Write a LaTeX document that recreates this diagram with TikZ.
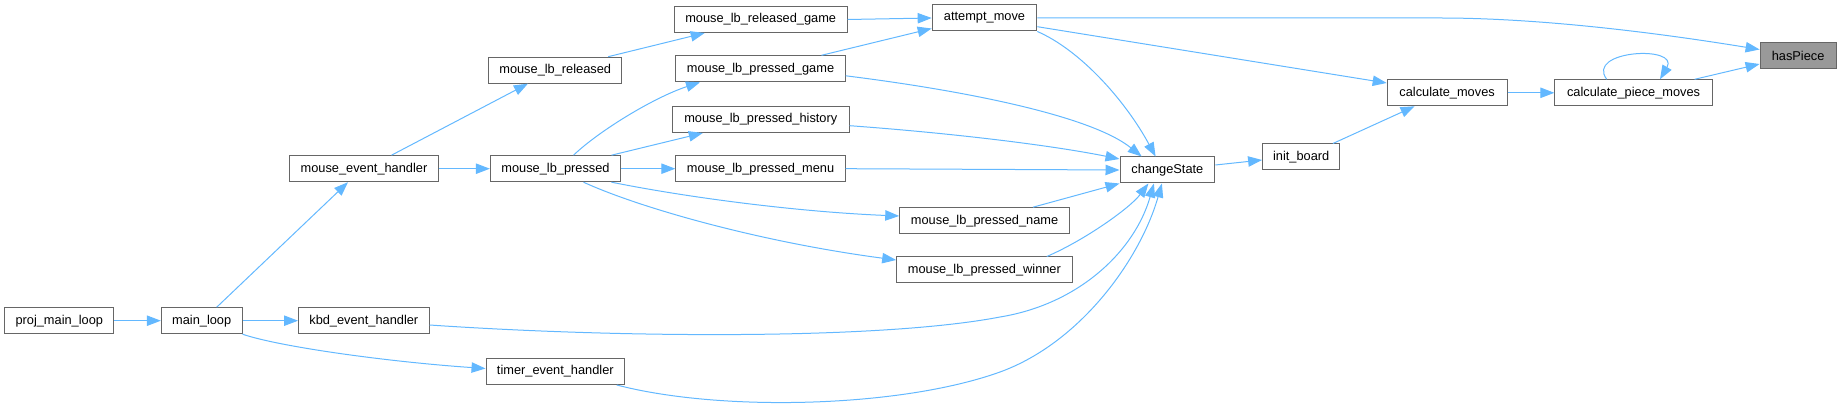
\documentclass[tikz,border=0pt]{standalone}
\usepackage{fontspec}
\setmainfont{Liberation Sans}
\usetikzlibrary{arrows.meta,calc}
\definecolor{edgeblue}{HTML}{63B8FF}
\definecolor{boxgray}{HTML}{666666}
\definecolor{hpfill}{HTML}{999999}
\tikzset{
  fn/.style={draw=boxgray, line width=0.75pt, fill=white, rectangle,
    minimum height=19.5pt, inner sep=0pt,
    font=\fontsize{9.6pt}{11pt}\selectfont},
  cur/.style={fn, fill=hpfill},
  call/.style={draw=edgeblue, line width=0.75pt,
    -{Triangle[length=10.5pt,width=7.8pt]}, color=edgeblue},
}
\begin{document}
\begin{tikzpicture}[x=0.75pt,y=-0.75pt]
\useasboundingbox (0,0) rectangle (1841,409);
% nodes
\node[fn, minimum width=81.9pt]  (proj)  at (59.3,320.7)  {proj\_main\_loop};
\node[fn, minimum width=60.5pt]  (main)  at (201.7,320.7) {main\_loop};
\node[fn, minimum width=97.9pt]  (kbd)   at (363.8,320.7) {kbd\_event\_handler};
\node[fn, minimum width=111.2pt] (meh)   at (364,168.7)   {mouse\_event\_handler};
\node[fn, minimum width=103.9pt] (timer) at (555.3,371.5) {timer\_event\_handler};
\node[fn, minimum width=99.75pt] (rel)   at (555.2,70.2)  {mouse\_lb\_released};
\node[fn, minimum width=97.7pt]  (pr)    at (555.5,168.7) {mouse\_lb\_pressed};
\node[fn, minimum width=129.6pt] (rg)    at (760.7,19.5)  {mouse\_lb\_released\_game};
\node[fn, minimum width=127pt]   (pg)    at (760.5,68.8)  {mouse\_lb\_pressed\_game};
\node[fn, minimum width=132.5pt] (hist)  at (760.8,119.5) {mouse\_lb\_pressed\_history};
\node[fn, minimum width=127pt]   (menu)  at (760.5,168.7) {mouse\_lb\_pressed\_menu};
\node[fn, minimum width=127.3pt] (name)  at (984.6,220.7) {mouse\_lb\_pressed\_name};
\node[fn, minimum width=131.6pt] (win)   at (984.4,270)   {mouse\_lb\_pressed\_winner};
\node[fn, minimum width=78.5pt]  (am)    at (984.5,18)    {attempt\_move};
\node[fn, minimum width=71.1pt]  (cs)    at (1167.4,170)  {changeState};
\node[fn, minimum width=57.9pt]  (ib)    at (1301.2,157)  {init\_board};
\node[fn, minimum width=89.9pt]  (cm)    at (1447.1,92.8) {calculate\_moves};
\node[fn, minimum width=118.1pt] (cpm)   at (1633.6,92.8) {calculate\_piece\_moves};
\node[cur, minimum width=57pt]   (hp)    at (1798.1,55.5) {hasPiece};
% edges
\draw[call] (proj.east) -- (main.west);
\draw[call] ($(main.north)+(15,0)$) -- ($(meh.south)+(-16,0)$);
\draw[call] (main.east) -- (kbd.west);
\draw[call] (main.south east) .. controls (280,347) and (390,362) .. ($(timer.west)+(0,-3)$);
\draw[call] ($(meh.north)+(27.5,0)$) -- ($(rel.south)+(-27.3,0)$);
\draw[call] (meh.east) -- (pr.west);
\draw[call] ($(rel.north)+(53,0)$) -- ($(rg.south)+(-56,0)$);
\draw[call] ($(pr.north)+(18,0)$) .. controls (600,130) and (655,97) .. ($(pg.south)+(-60.5,0)$);
\draw[call] ($(pr.north)+(56,0)$) -- ($(hist.south)+(-58,0)$);
\draw[call] (pr.east) -- (menu.west);
\draw[call] ($(pr.south)+(56,0)$) .. controls (690,198) and (800,212) .. ($(name.west)+(0,-4.7)$);
\draw[call] ($(pr.south)+(28,0)$) .. controls (640,208) and (760,242) .. ($(win.west)+(0,-10)$);
\draw[call] (rg.east) -- (am.west);
\draw[call] ($(pg.north)+(61,0)$) -- ($(am.south west)+(0,-3)$);
\draw[call] (am.east) -- (1440,18) .. controls (1530,18) and (1640,30) .. ($(hp.west)+(0,-6)$);
\draw[call] ($(am.east)+(0,8.7)$) -- ($(cm.west)+(0,-9.8)$);
\draw[call] (am.south east) .. controls (1080,50) and (1125,100) .. ($(cs.north)+(-11.8,0)$);
\draw[call] ($(pg.east)+(0,7)$) .. controls (960,90) and (1090,115) .. ($(cs.north)+(-25.7,0)$);
\draw[call] ($(hist.east)+(0,6.2)$) .. controls (950,133) and (1050,145) .. ($(cs.west)+(0,-11)$);
\draw[call] (menu.east) -- (cs.west);
\draw[call] ($(name.north)+(48.4,0)$) -- (cs.south west);
\draw[call] ($(win.north)+(62.4,0)$) .. controls (1085,240) and (1130,208) .. ($(cs.south)+(-19,0)$);
\draw[call] ($(kbd.east)+(0,4.3)$) .. controls (620,338) and (880,340) .. (1000,317)
   .. controls (1080,304) and (1135,250) .. ($(cs.south)+(-13.5,0)$);
\draw[call] ($(timer.south)+(61.5,0)$) .. controls (720,412) and (900,408) .. (1000,372)
   .. controls (1080,343) and (1140,260) .. ($(cs.south)+(-5.5,0)$);
\draw[call] ($(cs.east)+(0,-5)$) -- ($(ib.west)+(0,3)$);
\draw[call] ($(ib.north)+(31.7,0)$) -- ($(cm.south)+(-32.5,0)$);
\draw[call] (cm.east) -- (cpm.west);
\draw[call] ($(cpm.north)+(-26.9,0)$) .. controls (1585,50) and (1680,45) .. ($(cpm.north)+(26.4,0)$);
\draw[call] ($(cpm.north)+(61,0)$) -- ($(hp.south west)+(0,-5)$);
\end{tikzpicture}
\end{document}
